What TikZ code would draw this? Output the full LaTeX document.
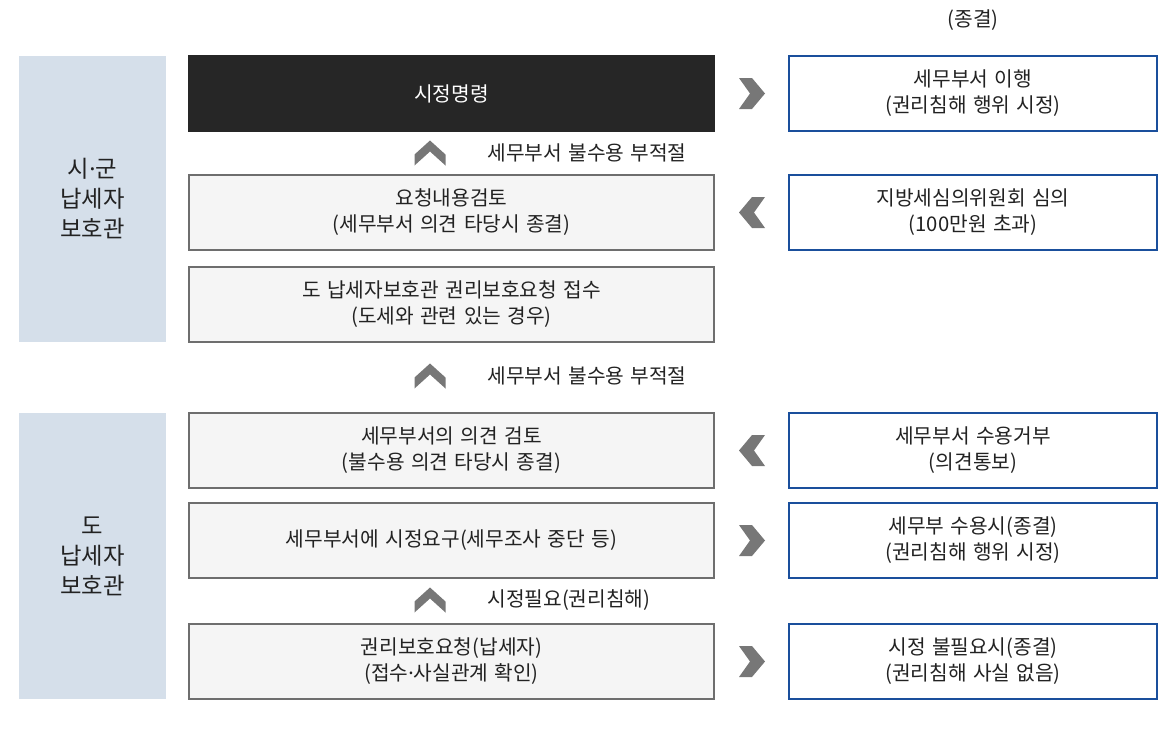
\documentclass[tikz,border=0pt]{standalone}
\usepackage{fontspec}
\setmainfont{Noto Sans CJK KR}[WordSpace=1.4]
\newfontfamily\dotfont{Noto Sans}
\usetikzlibrary{calc}
\definecolor{panelblue}{HTML}{D5DFEA}
\definecolor{boxgray}{HTML}{F5F5F5}
\definecolor{linegray}{HTML}{6E6E6E}
\definecolor{darkbox}{HTML}{262626}
\definecolor{rightblue}{HTML}{1A4F9C}
\definecolor{chevgray}{HTML}{777777}
\definecolor{txtgray}{HTML}{222222}
\newcommand{\mdot}{{\dotfont ·}}

\begin{document}
\begin{tikzpicture}[x=0.75pt, y=-0.75pt,
    every node/.style={text=txtgray, align=center, outer sep=0pt,
      font=\fontsize{15.2}{19.5}\selectfont},
    panel/.style={fill=panelblue, minimum width=110.25pt, minimum height=214.5pt,
      font=\fontsize{17.5}{22.5}\selectfont},
    midbox/.style={draw=linegray, fill=boxgray, line width=0.9pt,
      minimum width=393.75pt, minimum height=56.25pt},
    rightbox/.style={draw=rightblue, fill=white, line width=0.9pt,
      minimum width=276pt, minimum height=56.25pt}]
  \useasboundingbox (0,0) rectangle (1170,740);
  \coordinate (midcol) at (451.5, 0);
  \coordinate (rightcol) at (973, 0);

  % left panels
  \node [panel, name=P1] at (92.5, 199) {시\mdot 군\\납세자\\보호관};
  \node [panel, name=P2] at (92.5, 556) {도\\납세자\\보호관};

  % middle column
  \node [midbox, name=M1, fill=darkbox, draw=darkbox, text=white] at
  ($(midcol) + (0, 93.5)$) {시정명령};
  \node [midbox, name=M2] at
  ($(midcol) + (0, 212.5)$) {요청내용검토\\(세무부서 의견 타당시 종결)};
  \node [midbox, name=M3] at
  ($(midcol) + (0, 304.5)$) {도 납세자보호관 권리보호요청 접수\\(도세와 관련 있는 경우)};
  \node [midbox, name=M4] at
  ($(midcol) + (0, 450.5)$) {세무부서의 의견 검토\\(불수용 의견 타당시 종결)};
  \node [midbox, name=M5] at
  ($(midcol) + (0, 540.5)$) {세무부서에 시정요구(세무조사 중단 등)};
  \node [midbox, name=M6] at
  ($(midcol) + (0, 661.5)$) {권리보호요청(납세자)\\(접수\mdot 사실관계 확인)};

  % right column
  \node [name=end] at ($(rightcol) + (0, 20)$) {(종결)};
  \node [rightbox, name=R1] at
  ($(rightcol) + (0, 93.5)$) {세무부서 이행\\(권리침해 행위 시정)};
  \node [rightbox, name=R2] at
  ($(rightcol) + (0, 212.5)$) {지방세심의위원회 심의\\(100만원 초과)};
  \node [rightbox, name=R3] at
  ($(rightcol) + (0, 450.5)$) {세무부서 수용거부\\(의견통보)};
  \node [rightbox, name=R4] at
  ($(rightcol) + (0, 540.5)$) {세무부 수용시(종결)\\(권리침해 행위 시정)};
  \node [rightbox, name=R5] at
  ($(rightcol) + (0, 661.5)$) {시정 불필요시(종결)\\(권리침해 사실 없음)};

  % step labels
  \node [anchor=west, name=L1] at (483, 153) {세무부서 불수용 부적절};
  \node [anchor=west, name=L2] at (483, 376) {세무부서 불수용 부적절};
  \node [anchor=west, name=L3] at (483, 600) {시정필요(권리침해)};

  % chevrons
  \foreach \cx/\cy in {752/93.5, 752/540.5, 752/661.5}
    \fill [chevgray] (\cx-13, \cy-15.5) -- (\cx, \cy-15.5) -- (\cx+13, \cy)
      -- (\cx, \cy+15.5) -- (\cx-13, \cy+15.5) -- (\cx-2, \cy) -- cycle;
  \foreach \cx/\cy in {752/212.5, 752/450.5}
    \fill [chevgray] (\cx+13, \cy-15.5) -- (\cx, \cy-15.5) -- (\cx-13, \cy)
      -- (\cx, \cy+15.5) -- (\cx+13, \cy+15.5) -- (\cx+2, \cy) -- cycle;
  \foreach \cx/\cy in {430/153, 430/376, 430/600}
    \fill [chevgray] (\cx-15.5, \cy+1.5) -- (\cx, \cy-12.5) -- (\cx+15.5, \cy+1.5)
      -- (\cx+15.5, \cy+12.5) -- (\cx, \cy-1.5) -- (\cx-15.5, \cy+12.5) -- cycle;
\end{tikzpicture}
\end{document}
